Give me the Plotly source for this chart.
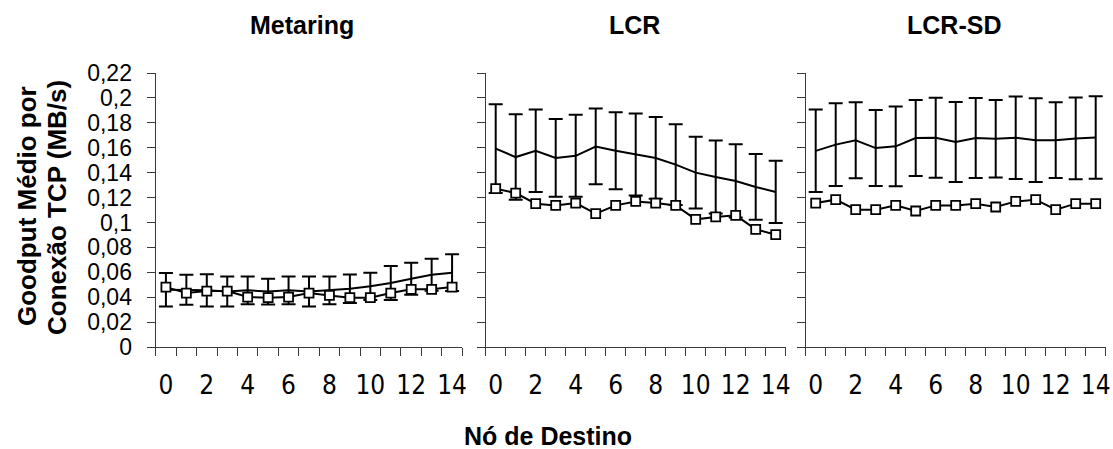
import plotly.graph_objects as go

# ---------------- data ----------------
nodes = list(range(15))
x_tick_vals = [0, 2, 4, 6, 8, 10, 12, 14]
x_tick_text = ["0", "2", "4", "6", "8", "10", "12", "14"]
y_tick_vals = [0, 0.02, 0.04, 0.06, 0.08, 0.10, 0.12, 0.14, 0.16, 0.18, 0.20, 0.22]
y_tick_text = ["0", "0,02", "0,04", "0,06", "0,08", "0,1", "0,12", "0,14", "0,16", "0,18", "0,2", "0,22"]
panel_titles = ["Metaring", "LCR", "LCR-SD"]

metaring_mean = [0.0460, 0.0460, 0.0455, 0.0446, 0.0455, 0.0445, 0.0455, 0.0446, 0.0455, 0.0468, 0.0487, 0.0514, 0.0548, 0.0580, 0.0597]
metaring_err = [0.0135, 0.0120, 0.0129, 0.0120, 0.0112, 0.0103, 0.0112, 0.0120, 0.0112, 0.0115, 0.0110, 0.0136, 0.0129, 0.0129, 0.0147]
metaring_sq = [0.0481, 0.0433, 0.0449, 0.0449, 0.0401, 0.0396, 0.0401, 0.0433, 0.0414, 0.0396, 0.0396, 0.0433, 0.0463, 0.0463, 0.0481]

lcr_mean = [0.1593, 0.1525, 0.1575, 0.1518, 0.1535, 0.1610, 0.1575, 0.1545, 0.1518, 0.1464, 0.1400, 0.1365, 0.1333, 0.1285, 0.1245]
lcr_err = [0.0356, 0.0343, 0.0331, 0.0312, 0.0329, 0.0304, 0.0309, 0.0329, 0.0328, 0.0324, 0.0288, 0.0294, 0.0294, 0.0264, 0.0250]
lcr_sq = [0.1271, 0.1236, 0.1151, 0.1137, 0.1156, 0.1071, 0.1137, 0.1169, 0.1156, 0.1137, 0.1025, 0.1044, 0.1057, 0.0945, 0.0902]

lcrsd_mean = [0.1575, 0.1625, 0.1660, 0.1597, 0.1611, 0.1678, 0.1680, 0.1646, 0.1678, 0.1672, 0.1680, 0.1661, 0.1661, 0.1675, 0.1682]
lcrsd_err = [0.0331, 0.0332, 0.0305, 0.0305, 0.0321, 0.0305, 0.0321, 0.0321, 0.0321, 0.0312, 0.0331, 0.0337, 0.0305, 0.0328, 0.0331]
lcrsd_sq = [0.1156, 0.1183, 0.1103, 0.1103, 0.1137, 0.1092, 0.1137, 0.1137, 0.1151, 0.1124, 0.1169, 0.1183, 0.1103, 0.1151, 0.1151]

means = [metaring_mean, lcr_mean, lcrsd_mean]
errs = [metaring_err, lcr_err, lcrsd_err]
squares = [metaring_sq, lcr_sq, lcrsd_sq]

# ---------------- layout geometry ----------------
W, H = 1113, 449
TOP, BOT = 73, 347
domains_px = [(155.7, 462.3), (485.7, 785.7), (805.7, 1105.7)]
FONT = "Liberation Sans, Arial, sans-serif"
NARROW = "Liberation Sans Narrow, Arial Narrow, DejaVu Sans Condensed, Liberation Sans, sans-serif"
AXC = "#3a3a3a"

fig = go.Figure()
for i in range(3):
    xa = "x" if i == 0 else f"x{i+1}"
    ya = "y" if i == 0 else f"y{i+1}"
    fig.add_trace(go.Scatter(
        x=nodes, y=means[i], mode="lines",
        line=dict(color="black", width=2),
        error_y=dict(type="data", array=errs[i], visible=True,
                     color="black", thickness=2, width=7),
        xaxis=xa, yaxis=ya, showlegend=False, hoverinfo="skip"))
    fig.add_trace(go.Scatter(
        x=nodes, y=squares[i], mode="lines+markers",
        line=dict(color="black", width=2),
        marker=dict(symbol="square", size=9, color="white",
                    line=dict(color="black", width=1.8)),
        xaxis=xa, yaxis=ya, showlegend=False, hoverinfo="skip"))

layout = dict(
    width=W, height=H,
    margin=dict(l=0, r=0, t=TOP, b=H - BOT, pad=0, autoexpand=False),
    plot_bgcolor="white", paper_bgcolor="white",
    font=dict(family=FONT, color="black"),
    showlegend=False,
)
for i in range(3):
    xk = "xaxis" if i == 0 else f"xaxis{i+1}"
    yk = "yaxis" if i == 0 else f"yaxis{i+1}"
    ya = "y" if i == 0 else f"y{i+1}"
    xa = "x" if i == 0 else f"x{i+1}"
    d0, d1 = domains_px[i]
    layout[xk] = dict(
        domain=[d0 / W, d1 / W], anchor=ya, range=[-0.5, 14.5],
        showline=True, linecolor=AXC, linewidth=1.3, mirror=False,
        showgrid=False, zeroline=False,
        tickmode="array", tickvals=x_tick_vals, ticktext=x_tick_text,
        ticks="", ticklabelstandoff=15,
        tickfont=dict(family=NARROW, size=26, color="black"),
        minor=dict(ticks="outside", tick0=-0.5, dtick=1, ticklen=8,
                   tickcolor=AXC, tickwidth=1.3, showgrid=False),
    )
    layout[yk] = dict(
        domain=[0, 1], anchor=xa, range=[0, 0.22],
        showline=True, linecolor=AXC, linewidth=1.3,
        showgrid=False, zeroline=False,
        tickmode="array", tickvals=y_tick_vals,
        ticktext=y_tick_text if i == 0 else [""] * len(y_tick_vals),
        showticklabels=(i == 0),
        ticks="outside", ticklen=8, tickcolor=AXC, tickwidth=1.3,
        ticklabelstandoff=10,
        tickfont=dict(family=FONT, size=23, color="black"),
    )
fig.update_layout(**layout)

def py(p):
    return (BOT - p) / (BOT - TOP)

title_x = [301.7, 634.5, 953.5]
for t, tx in zip(panel_titles, title_x):
    fig.add_annotation(text=f"<b>{t}</b>", x=tx / W, y=py(25), xref="paper", yref="paper",
                       showarrow=False, xanchor="center", yanchor="middle",
                       font=dict(family=FONT, size=25, color="black"))

fig.add_annotation(text="<b>Goodput Médio por</b>", x=27 / W, y=py(206), xref="paper", yref="paper",
                   showarrow=False, textangle=-90, xanchor="center", yanchor="middle",
                   font=dict(family=FONT, size=26, color="black"))
fig.add_annotation(text="<b>Conexão TCP (MB/s)</b>", x=57 / W, y=py(208), xref="paper", yref="paper",
                   showarrow=False, textangle=-90, xanchor="center", yanchor="middle",
                   font=dict(family=FONT, size=26, color="black"))
fig.add_annotation(text="<b>Nó de Destino</b>", x=548 / W, y=py(436), xref="paper", yref="paper",
                   showarrow=False, xanchor="center", yanchor="middle",
                   font=dict(family=FONT, size=25, color="black"))

fig.write_html("out.html", config={"displayModeBar": False},
               post_script="document.body.style.margin='0';document.body.style.padding='0';")
